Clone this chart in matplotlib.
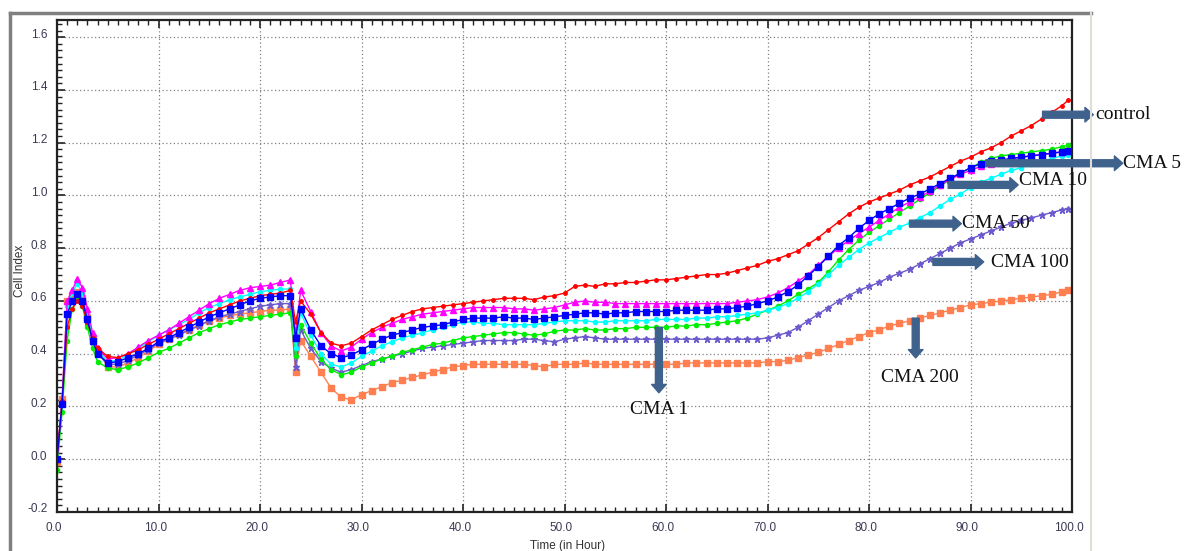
import matplotlib
matplotlib.use("Agg")
import matplotlib.pyplot as plt
from matplotlib.lines import Line2D
from matplotlib.ticker import MultipleLocator, FormatStrFormatter
from matplotlib.transforms import ScaledTranslation

# time axis (hours)
T = [0, 0.5, 1, 1.5, 2, 2.5, 3, 3.5, 4, 5, 6] + list(range(7, 24)) + [23.5] + list(range(24, 100)) + [99.6]

# cell index per treatment
control = [0.00, 0.22, 0.50, 0.57, 0.60, 0.58, 0.52, 0.46, 0.42, 0.39, 0.385,
           0.40, 0.415, 0.435, 0.455, 0.475, 0.495, 0.515, 0.535, 0.555, 0.57, 0.585, 0.60, 0.61, 0.62, 0.625, 0.63, 0.64,
           0.52,
           0.60, 0.55, 0.48, 0.44, 0.43, 0.44,
           0.465, 0.49, 0.51, 0.53, 0.545, 0.56, 0.57, 0.575, 0.58, 0.585,
           0.59, 0.595, 0.60, 0.605, 0.61, 0.61, 0.61, 0.605, 0.615, 0.62,
           0.63, 0.655, 0.66, 0.655, 0.665, 0.665, 0.67, 0.67, 0.675, 0.68,
           0.68, 0.685, 0.69, 0.695, 0.70, 0.70, 0.705, 0.715, 0.725, 0.735,
           0.75, 0.76, 0.775, 0.79, 0.815, 0.84, 0.87, 0.90, 0.93, 0.955,
           0.975, 0.99, 1.005, 1.02, 1.04, 1.055, 1.07, 1.09, 1.11, 1.13,
           1.145, 1.165, 1.18, 1.20, 1.225, 1.245, 1.265, 1.29, 1.315, 1.34,
           1.36]
cma1 = [-0.04, 0.18, 0.45, 0.57, 0.61, 0.58, 0.50, 0.42, 0.37, 0.345, 0.34,
        0.35, 0.365, 0.385, 0.405, 0.42, 0.44, 0.46, 0.48, 0.495, 0.51, 0.52, 0.53, 0.535, 0.54, 0.545, 0.55, 0.555,
        0.39,
        0.51, 0.44, 0.38, 0.34, 0.32, 0.33,
        0.35, 0.365, 0.38, 0.39, 0.405, 0.415, 0.425, 0.435, 0.44, 0.45,
        0.46, 0.465, 0.47, 0.475, 0.48, 0.48, 0.475, 0.47, 0.475, 0.485,
        0.49, 0.49, 0.495, 0.49, 0.49, 0.495, 0.495, 0.50, 0.50, 0.50,
        0.50, 0.505, 0.505, 0.51, 0.51, 0.515, 0.52, 0.525, 0.535, 0.55,
        0.565, 0.58, 0.60, 0.625, 0.645, 0.67, 0.71, 0.755, 0.795, 0.83,
        0.86, 0.885, 0.91, 0.935, 0.96, 0.985, 1.01, 1.035, 1.06, 1.085,
        1.105, 1.125, 1.14, 1.15, 1.155, 1.16, 1.165, 1.17, 1.175, 1.185,
        1.19]
cma5 = [0.00, 0.21, 0.55, 0.60, 0.625, 0.60, 0.53, 0.45, 0.40, 0.365, 0.37,
        0.385, 0.40, 0.42, 0.445, 0.46, 0.48, 0.50, 0.52, 0.54, 0.555, 0.57, 0.585, 0.60, 0.61, 0.615, 0.62, 0.62,
        0.46,
        0.57, 0.49, 0.43, 0.40, 0.385, 0.395,
        0.415, 0.435, 0.455, 0.47, 0.48, 0.49, 0.50, 0.505, 0.51, 0.52,
        0.53, 0.535, 0.535, 0.535, 0.54, 0.535, 0.535, 0.53, 0.535, 0.54,
        0.545, 0.55, 0.555, 0.555, 0.55, 0.555, 0.555, 0.56, 0.56, 0.56,
        0.56, 0.565, 0.565, 0.565, 0.565, 0.57, 0.57, 0.575, 0.58, 0.59,
        0.60, 0.615, 0.635, 0.66, 0.695, 0.73, 0.77, 0.81, 0.84, 0.875,
        0.905, 0.93, 0.95, 0.97, 0.99, 1.005, 1.025, 1.045, 1.065, 1.085,
        1.105, 1.12, 1.13, 1.135, 1.14, 1.145, 1.15, 1.155, 1.16, 1.165,
        1.17]
cma10 = [0.00, 0.22, 0.60, 0.64, 0.685, 0.65, 0.57, 0.48, 0.42, 0.38, 0.385,
         0.40, 0.425, 0.45, 0.47, 0.49, 0.515, 0.54, 0.565, 0.59, 0.61, 0.625, 0.64, 0.65, 0.655, 0.66, 0.67, 0.68,
         0.47,
         0.64, 0.56, 0.48, 0.43, 0.41, 0.425,
         0.455, 0.48, 0.50, 0.515, 0.53, 0.54, 0.55, 0.555, 0.56, 0.565,
         0.57, 0.575, 0.575, 0.575, 0.575, 0.57, 0.57, 0.565, 0.57, 0.575,
         0.585, 0.595, 0.60, 0.595, 0.595, 0.59, 0.59, 0.59, 0.59, 0.59,
         0.59, 0.59, 0.59, 0.59, 0.59, 0.59, 0.59, 0.595, 0.60, 0.605,
         0.615, 0.63, 0.65, 0.675, 0.70, 0.735, 0.77, 0.80, 0.83, 0.855,
         0.88, 0.905, 0.93, 0.955, 0.975, 0.995, 1.015, 1.04, 1.06, 1.08,
         1.095, 1.11, 1.12, 1.13, 1.14, 1.145, 1.15, 1.155, 1.16, 1.165,
         1.17]
cma50 = [0.00, 0.21, 0.58, 0.63, 0.665, 0.63, 0.55, 0.47, 0.41, 0.37, 0.375,
         0.395, 0.42, 0.445, 0.47, 0.49, 0.51, 0.53, 0.555, 0.575, 0.59, 0.605, 0.615, 0.625, 0.635, 0.64, 0.645, 0.645,
         0.42,
         0.555, 0.47, 0.40, 0.36, 0.35, 0.365,
         0.39, 0.41, 0.43, 0.445, 0.46, 0.47, 0.48, 0.49, 0.50, 0.51,
         0.52, 0.52, 0.515, 0.515, 0.51, 0.51, 0.51, 0.51, 0.515, 0.52,
         0.525, 0.525, 0.525, 0.52, 0.52, 0.525, 0.525, 0.525, 0.525, 0.53,
         0.53, 0.53, 0.53, 0.535, 0.535, 0.54, 0.54, 0.545, 0.55, 0.555,
         0.565, 0.575, 0.59, 0.61, 0.635, 0.665, 0.70, 0.735, 0.765, 0.795,
         0.82, 0.84, 0.86, 0.88, 0.895, 0.915, 0.935, 0.96, 0.985, 1.005,
         1.03, 1.05, 1.065, 1.08, 1.095, 1.105, 1.12, 1.13, 1.14, 1.15,
         1.155]
cma100 = [0.00, 0.21, 0.55, 0.60, 0.62, 0.59, 0.52, 0.45, 0.40, 0.36, 0.36,
          0.375, 0.395, 0.415, 0.44, 0.455, 0.47, 0.49, 0.505, 0.525, 0.54, 0.55, 0.56, 0.57, 0.58, 0.585, 0.59, 0.59,
          0.35,
          0.49, 0.42, 0.37, 0.345, 0.33, 0.34,
          0.355, 0.37, 0.38, 0.39, 0.40, 0.41, 0.42, 0.425, 0.43, 0.435,
          0.44, 0.445, 0.45, 0.45, 0.45, 0.45, 0.455, 0.455, 0.45, 0.445,
          0.455, 0.46, 0.465, 0.46, 0.455, 0.455, 0.455, 0.455, 0.455, 0.455,
          0.455, 0.455, 0.455, 0.455, 0.455, 0.455, 0.455, 0.455, 0.455, 0.455,
          0.46, 0.47, 0.48, 0.50, 0.525, 0.55, 0.575, 0.60, 0.62, 0.64,
          0.655, 0.67, 0.69, 0.705, 0.72, 0.74, 0.76, 0.78, 0.80, 0.82,
          0.835, 0.85, 0.865, 0.88, 0.895, 0.905, 0.915, 0.925, 0.935, 0.945,
          0.95]
cma200 = [-0.01, 0.23, 0.60, 0.62, 0.635, 0.61, 0.54, 0.46, 0.41, 0.35, 0.35,
          0.365, 0.385, 0.41, 0.435, 0.455, 0.475, 0.49, 0.51, 0.525, 0.535, 0.545, 0.55, 0.555, 0.56, 0.565, 0.565, 0.57,
          0.33,
          0.45, 0.39, 0.33, 0.27, 0.235, 0.225,
          0.245, 0.26, 0.275, 0.29, 0.30, 0.31, 0.32, 0.33, 0.34, 0.35,
          0.355, 0.36, 0.36, 0.36, 0.36, 0.36, 0.36, 0.355, 0.35, 0.36,
          0.36, 0.36, 0.365, 0.36, 0.36, 0.36, 0.36, 0.36, 0.36, 0.36,
          0.36, 0.36, 0.365, 0.365, 0.365, 0.365, 0.365, 0.365, 0.365, 0.365,
          0.37, 0.37, 0.375, 0.385, 0.395, 0.405, 0.42, 0.435, 0.45, 0.465,
          0.48, 0.49, 0.505, 0.515, 0.525, 0.535, 0.545, 0.555, 0.565, 0.575,
          0.585, 0.59, 0.595, 0.60, 0.605, 0.61, 0.615, 0.62, 0.625, 0.635,
          0.64]

fig = plt.figure(figsize=(11.86, 5.51), dpi=100)
ax = fig.add_axes([57 / 1186, 39 / 551, (1072 - 57) / 1186, (512 - 20) / 551])

# 繪製各組曲線
ax.plot(T, cma200, '-s', color='#ff7f50', ms=4, lw=1, mec='#ff7f50')
ax.plot(T, cma100, '-*', color='#6a5acd', ms=4.5, lw=1, mec='#6a5acd')
ax.plot(T, cma1, '-o', color='#00ee00', ms=3, lw=1, mec='#00ee00')
ax.plot(T, cma50, '-o', color='#00ffff', ms=3, lw=1, mec='#00ffff')
ax.plot(T, cma10, '-^', color='#ff00ff', ms=4, lw=1, mec='#ff00ff')
ax.plot(T, control, '-o', color='#ff0000', ms=2.5, lw=1, mec='#ff0000')
ax.plot(T, cma5, '-s', color='#0000ff', ms=4, lw=1, mec='#0000ff')

ax.set_xlim(0, 100)
ax.set_ylim(-0.2, 1.665)
ax.xaxis.set_major_locator(MultipleLocator(10))
ax.xaxis.set_minor_locator(MultipleLocator(1))
ax.yaxis.set_major_locator(MultipleLocator(0.2))
ax.yaxis.set_minor_locator(MultipleLocator(0.025))
ax.xaxis.set_major_formatter(FormatStrFormatter('%.1f'))
ax.yaxis.set_major_formatter(FormatStrFormatter('%.1f'))
ax.grid(True, which='major', linestyle=(0, (1, 2)), color='#808080', lw=0.9)

ax.tick_params(which='both', direction='in', top=True, right=False, colors='#222222',
               labelcolor='#3a3a55', labelsize=8.5)
ax.tick_params(which='major', length=6, width=1.2, pad=7)
ax.tick_params(which='minor', length=3.5, width=1)
for lab in ax.get_xticklabels() + ax.get_yticklabels():
    lab.set_fontfamily('Liberation Sans')
for lab in ax.get_xticklabels():
    lab.set_transform(lab.get_transform() + ScaledTranslation(-3 / 100, 0, fig.dpi_scale_trans))
for lab in ax.get_yticklabels():
    lab.set_transform(lab.get_transform() + ScaledTranslation(0, 4 / 100, fig.dpi_scale_trans))
for s in ax.spines.values():
    s.set_color('#222222')
    s.set_linewidth(1.6)

fig.text(568 / 1186, 1 - 546 / 551, 'Time (in Hour)', ha='center', va='center',
         fontsize=8.5, family='Liberation Sans', color='#333333')
fig.text(20 / 1186, 1 - 271 / 551, 'Cell Index', ha='center', va='center', rotation=90,
         fontsize=8.5, family='Liberation Sans', color='#333333')

# 外框
fig.add_artist(Line2D([9.5 / 1186, 9.5 / 1186], [0, 1 - 13 / 551], color='#808080', lw=2.5))
fig.add_artist(Line2D([9.5 / 1186, 1091 / 1186], [1 - 13 / 551, 1 - 13 / 551], color='#808080', lw=2.5))
fig.add_artist(Line2D([1091 / 1186, 1091 / 1186], [0, 1 - 13 / 551], color='#deded6', lw=1.5))

# 標註箭頭
arrow_col = '#3f628d'
aprops = dict(arrowstyle='simple,head_length=0.6,head_width=1.05,tail_width=0.5',
              color=arrow_col, shrinkA=0, shrinkB=0)
labels = [
    ('control', (97.1, 1.306), (102.1, 1.306), (102.3, 1.306), 'left'),
    ('CMA 5', (91.5, 1.122), (105.0, 1.122), (105.0, 1.12), 'left'),
    ('CMA 10', (87.8, 1.040), (94.7, 1.040), (94.8, 1.055), 'left'),
    ('CMA 50', (84.0, 0.893), (89.1, 0.893), (89.2, 0.895), 'left'),
    ('CMA 100', (86.3, 0.748), (91.3, 0.748), (92.0, 0.745), 'left'),
    ('CMA 200', (84.6, 0.535), (84.6, 0.384), (85.0, 0.309), 'center'),
    ('CMA 1', (59.3, 0.500), (59.3, 0.252), (59.3, 0.189), 'center'),
]
for name, tail, head, tpos, ha in labels:
    ax.annotate('', xy=head, xytext=tail, arrowprops=aprops, annotation_clip=False)
    ax.text(tpos[0], tpos[1], name, ha=ha, va='center', fontsize=14,
            family='Liberation Serif', color='#111111', clip_on=False)

fig.savefig('out.png', dpi=100)
